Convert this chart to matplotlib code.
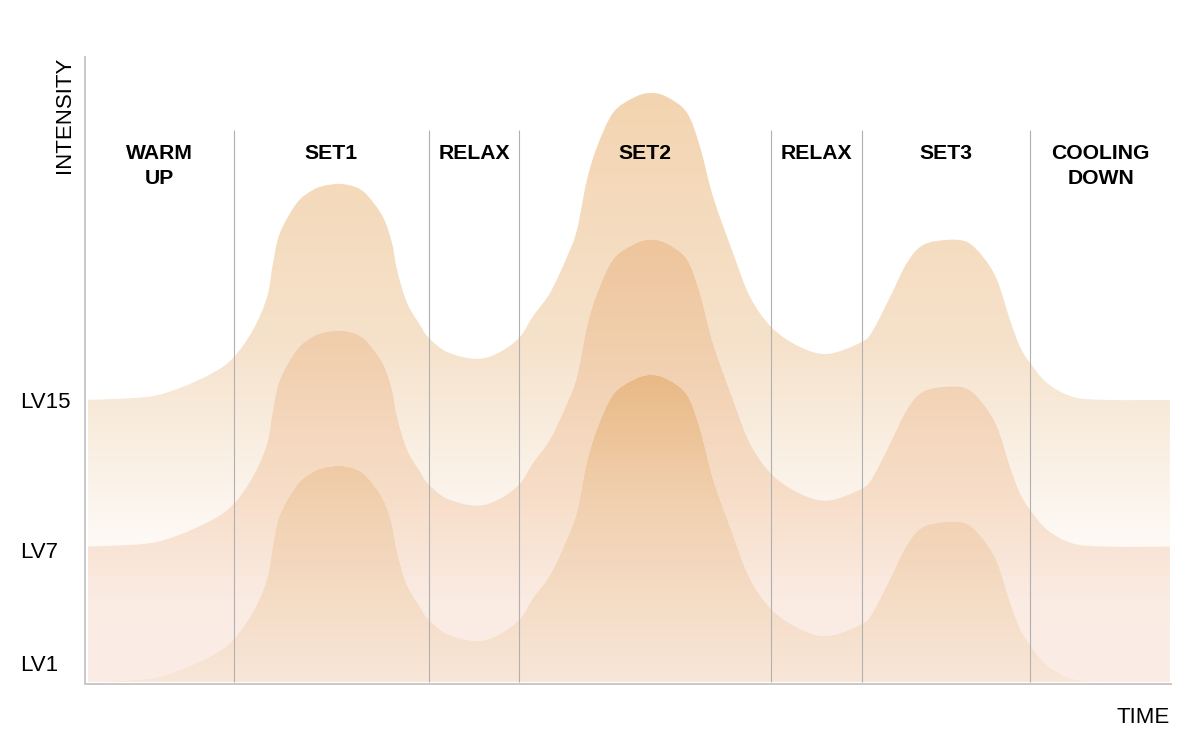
import numpy as np
import matplotlib
matplotlib.use("Agg")
import matplotlib.pyplot as plt
from matplotlib.colors import LinearSegmentedColormap
from matplotlib.patches import PathPatch
from matplotlib.path import Path

plt.rcParams['font.family'] = ['Liberation Sans', 'DejaVu Sans']

# time in minutes, intensity shape (levels above the curve's own base)
t = [0.14, 3.43, 5.25, 7.07, 8.18, 9.28, 10.06, 10.39, 10.77, 11.71, 12.60, 13.26,
     14.09, 14.92, 15.58, 16.46, 16.96, 17.24, 17.79, 18.51, 18.95, 20.0, 21.66,
     22.93, 24.03, 24.75, 25.69, 26.63, 27.18, 27.73, 28.29, 29.17, 30.28, 31.22,
     32.16, 33.26, 33.98, 34.70, 35.80, 36.74, 37.96, 39.50, 41.05, 42.93, 43.54,
     44.48, 45.41, 46.30, 47.62, 48.73, 49.61, 50.39, 51.10, 51.66, 52.21, 53.15,
     54.59, 56.46, 59.94]
shape = [0.0, 0.16, 0.64, 1.44, 2.23, 3.72, 5.48, 7.29, 8.88, 10.48, 11.17, 11.40,
         11.49, 11.33, 10.90, 9.73, 8.35, 6.91, 5.16, 3.99, 3.35, 2.55, 2.18,
         2.55, 3.35, 4.45, 5.69, 7.61, 9.04, 11.70, 13.46, 15.27, 16.06, 16.33,
         16.11, 15.27, 13.46, 10.80, 7.82, 5.48, 3.83, 2.82, 2.45, 3.09, 3.72,
         5.48, 7.29, 8.24, 8.51, 8.40, 7.61, 6.38, 4.26, 2.82, 1.97, 0.90,
         0.16, 0.0, 0.0]

# base level of each curve (top, middle, bottom)
bases = [15, 7.2, 0]

phase_edges = [0, 8.23, 19.0, 23.98, 37.9, 42.93, 52.21, 60]
phase_names = ['WARM\nUP', 'SET1', 'RELAX', 'SET2', 'RELAX', 'SET3', 'COOLING\nDOWN']

level_ticks = [15, 7, 1]
level_labels = ['LV15', 'LV7', 'LV1']

# gradient stops per band: (level, colour)
band_stops = [
    [(7.2, '#fefaf6'), (12.8, '#f9eee1'), (18, '#f6e2cb'), (31.6, '#f3d4b0')],
    [(0, '#fbede6'), (4.4, '#faebe3'), (9.7, '#f7dec9'), (17.7, '#f1cfae'), (23.6, '#eec59c')],
    [(0, '#f8e6d8'), (9.7, '#f1d0af'), (16.4, '#e9b985')],
]

t = np.array(t)
shape = np.array(shape)


def bezier_pts(x, y):
    # catmull-rom through the read points, as cubic bezier pieces
    p = np.column_stack([x, y])
    pe = np.vstack([p[0], p, p[-1]])
    verts = [p[0]]
    for i in range(len(p) - 1):
        p0, p1, p2, p3 = pe[i], pe[i + 1], pe[i + 2], pe[i + 3]
        verts += [p1 + (p2 - p0) / 6, p2 - (p3 - p1) / 6, p2]
    return verts


fig = plt.figure(figsize=(12, 7.37), dpi=100)
ax = fig.add_axes([85/1200, 1 - 684/737, 1086/1200, 627/737])

curves = [b + shape for b in bases]
lowers = curves[1:] + [np.zeros_like(shape)]

for upper, lower, stops in zip(curves, lowers, band_stops):
    lo, hi = stops[0][0], stops[-1][0]
    cmap = LinearSegmentedColormap.from_list(
        'band', [((lv - lo) / (hi - lo), c) for lv, c in stops])
    grad = np.linspace(0, 1, 256).reshape(-1, 1)
    im = ax.imshow(grad, cmap=cmap, origin='lower', aspect='auto',
                   extent=[t[0], t[-1], lo, hi], zorder=1)
    up_v = bezier_pts(t, upper)
    lo_v = bezier_pts(t[::-1], lower[::-1])
    verts = up_v + lo_v + [up_v[0]]
    codes = ([Path.MOVETO] + [Path.CURVE4] * (len(up_v) - 1) +
             [Path.LINETO] + [Path.CURVE4] * (len(lo_v) - 1) + [Path.CLOSEPOLY])
    patch = PathPatch(Path(verts, codes), facecolor='none', edgecolor='none')
    ax.add_patch(patch)
    im.set_clip_path(patch)

ax.set_xlim(0, 60)
ax.set_ylim(-0.11, 33.24)

ax.vlines(phase_edges[1:-1], 0, 29.36, colors='#b0b0b0', lw=0.8, zorder=3)

for i, name in enumerate(phase_names):
    xc = (phase_edges[i] + phase_edges[i + 1]) / 2
    ax.text(xc, 28.6, name, ha='center', va='top', fontsize=15.2,
            fontweight='bold', linespacing=1.38, zorder=4)

for s in ['top', 'right']:
    ax.spines[s].set_visible(False)
for s in ['left', 'bottom']:
    ax.spines[s].set_color('#c8c8c8')
    ax.spines[s].set_linewidth(1.4)

ax.set_xticks([])
ax.set_yticks(level_ticks)
ax.set_yticklabels(level_labels, fontsize=16)
ax.tick_params(axis='y', length=0, pad=46.8)
for lbl in ax.get_yticklabels():
    lbl.set_ha('left')

fig.text(64/1200, 1 - 57/737, 'INTENSITY', rotation=90, ha='center', va='top', fontsize=16)
fig.text(1170/1200, 1 - 723/737, 'TIME', ha='right', va='baseline', fontsize=16)

fig.savefig('out.png', dpi=100)
